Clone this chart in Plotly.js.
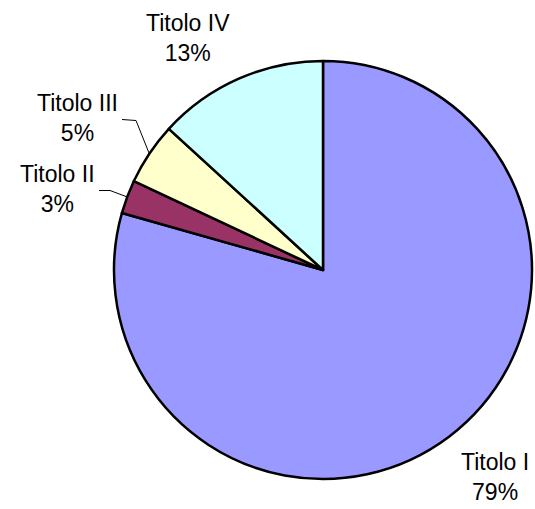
<!DOCTYPE html>
<html>
<head>
<meta charset="utf-8">
<script src="https://cdn.plot.ly/plotly-3.0.1.min.js"></script>
<style>html,body{margin:0;padding:0;background:#fff;}#chart{width:535px;height:509px;}</style>
</head>
<body>
<div id="chart"></div>
<script>
const categories = ["Titolo I", "Titolo II", "Titolo III", "Titolo IV"];
const values = [79.4, 2.6, 4.8, 13.2];
const colors = ["#9999FF", "#993366", "#FFFFCC", "#CCFFFF"];

const W = 535, H = 509;
const cx = 323, cy = 270, R = 209;
const px = x => x / W;
const py = y => 1 - y / H;

const total = values.reduce((a, b) => a + b, 0);
const pct = values.map(v => Math.round(v / total * 100) + "%");

// label block centers (pixels)
const labelPos = [[495, 477], [57, 189], [77, 118], [188, 38]];

const annotations = categories.map((c, i) => ({
  text: c + "<br>" + pct[i],
  x: px(labelPos[i][0]), y: py(labelPos[i][1]),
  xref: "paper", yref: "paper",
  xanchor: "center", yanchor: "middle",
  showarrow: false, align: "center",
  font: {family: "Arial, 'Liberation Sans', sans-serif", size: 23, color: "#000"}
}));

const lineStyle = {color: "#000", width: 1};
const shapes = [
  {type: "line", xref: "paper", yref: "paper", x0: px(122), y0: py(119.5), x1: px(136), y1: py(120.5), line: lineStyle},
  {type: "line", xref: "paper", yref: "paper", x0: px(136), y0: py(120.5), x1: px(149), y1: py(153), line: lineStyle},
  {type: "line", xref: "paper", yref: "paper", x0: px(99), y0: py(190.5), x1: px(110), y1: py(190.5), line: lineStyle},
  {type: "line", xref: "paper", yref: "paper", x0: px(110), y0: py(190.5), x1: px(126), y1: py(196.5), line: lineStyle}
];

const trace = {
  type: "pie",
  labels: categories,
  values: values,
  sort: false,
  direction: "clockwise",
  rotation: 0,
  textinfo: "none",
  hoverinfo: "label+percent",
  marker: {colors: colors, line: {color: "#000", width: 2.5}},
  domain: {x: [px(cx - R), px(cx + R)], y: [py(cy + R), py(cy - R)]},
  showlegend: false
};

Plotly.newPlot("chart", [trace], {
  width: W, height: H,
  margin: {l: 0, r: 0, t: 0, b: 0},
  paper_bgcolor: "#fff",
  showlegend: false,
  annotations: annotations,
  shapes: shapes
}, {displayModeBar: false, staticPlot: true});
</script>
</body>
</html>
